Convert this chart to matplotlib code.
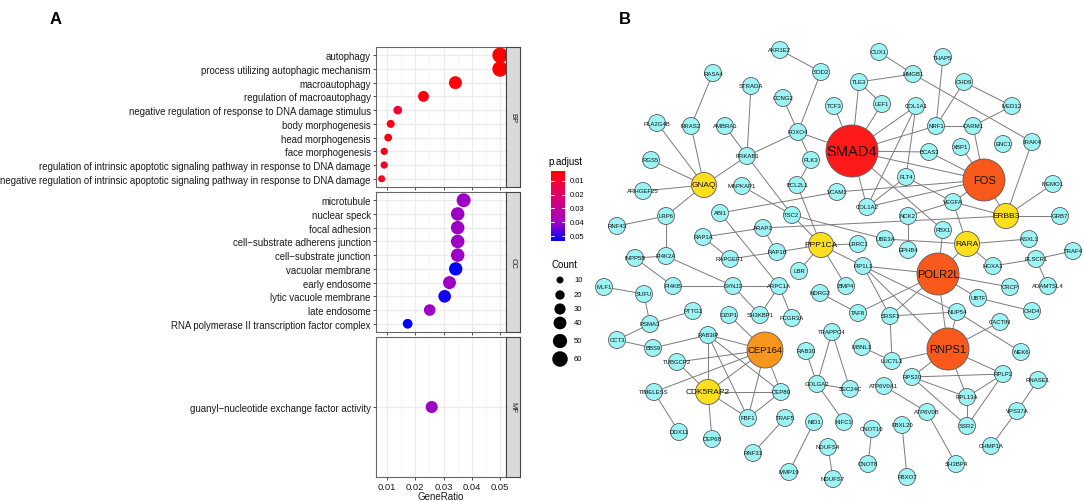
import numpy as np
import matplotlib
matplotlib.use("Agg")
import matplotlib.pyplot as plt
from matplotlib.colors import LinearSegmentedColormap, Normalize
from matplotlib.patches import Circle

plt.rcParams['font.family'] = ['Liberation Sans', 'DejaVu Sans']

# ---------------- Panel A data ----------------
bp_terms = ["autophagy", "process utilizing autophagic mechanism", "macroautophagy",
            "regulation of macroautophagy",
            "negative regulation of response to DNA damage stimulus",
            "body morphogenesis", "head morphogenesis", "face morphogenesis",
            "regulation of intrinsic apoptotic signaling pathway in response to DNA damage",
            "negative regulation of intrinsic apoptotic signaling pathway in response to DNA damage"]
bp_ratio = [0.0500, 0.0500, 0.0342, 0.0229, 0.0138, 0.0113, 0.0104, 0.0090, 0.0090, 0.0081]
bp_count = [60, 60, 41, 28, 17, 14, 13, 11, 11, 10]
bp_padj = [0.0028, 0.0028, 0.004, 0.005, 0.011, 0.005, 0.005, 0.007, 0.010, 0.007]

cc_terms = ["microtubule", "nuclear speck", "focal adhesion", "cell\u2212substrate adherens junction",
            "cell\u2212substrate junction", "vacuolar membrane", "early endosome",
            "lytic vacuole membrane", "late endosome",
            "RNA polymerase II transcription factor complex"]
cc_ratio = [0.0371, 0.0350, 0.0350, 0.0350, 0.0350, 0.0343, 0.0321, 0.0304, 0.0251, 0.0173]
cc_count = [48, 45, 45, 45, 45, 44, 41, 39, 32, 22]
cc_padj = [0.040, 0.040, 0.040, 0.040, 0.040, 0.0536, 0.040, 0.052, 0.040, 0.0536]

mf_terms = ["guanyl\u2212nucleotide exchange factor activity"]
mf_ratio = [0.0258]
mf_count = [35]
mf_padj = [0.040]

x_ticks = [0.01, 0.02, 0.03, 0.04, 0.05]
padj_ticks = [0.01, 0.02, 0.03, 0.04, 0.05]
count_ticks = [10, 20, 30, 40, 50, 60]

# ---------------- Panel B data ----------------
node_names = ["SMAD4", "FOS", "POLR2L", "RNPS1", "CEP164",
              "GNAQ", "PPP1CA", "RARA", "ERBB3", "CDK5RAP2",
              "AKR1E2", "SOD2", "RASA4", "STRADA", "CCNG2", "TCF3", "PLA2G4B", "RRAS2",
              "AMBRA1", "FOXO4", "PRKAB1", "RGS5", "PLK3", "CUX1", "THAP5", "HMGB1",
              "TLE3", "CHD9", "LEF1", "COL1A1", "MED12", "NRF1", "CARM1", "BCAS3",
              "XBP1", "ENC1", "IRAK4", "ARHGEF25", "MAPKAP1", "BCL2L1", "VCAM1", "LRP6",
              "ABI1", "TSC2", "RNF43", "ARAP1", "RAP1A", "PI4K2A", "INPP5B", "RAP1B",
              "RAPGEF1", "LBR", "MLF1", "SUFU", "PI4KB", "SYNJ2", "ARPC1A", "NDRG2",
              "PTTG1", "DZIP1", "SH3KBP1", "FCGR3A", "PSMA3", "FLT4", "MEMO1", "COL1A2",
              "VEGFA", "NCK2", "GRB7", "PBX1", "UBE3A", "LRRC1", "ASXL1", "TRAF4",
              "EPHB4", "PLSCR1", "FIP1L1", "HOXA1", "BMP4", "CRCP", "ADAMTSL4", "UBTF",
              "CHD4", "TAF8", "SRSF1", "NUP54", "CACTIN", "CCT3", "RAB3IP", "BBS9",
              "RAB30", "TRAPPC4", "TUBGCP2", "GOLGA2", "TIMELESS", "CEP89", "FBF1",
              "TRAF5", "NID1", "DDX11", "CEP68", "RNF31", "MMP19", "NDUFS4", "NDUFS7",
              "MBNL1", "LUC7L3", "SEC24C", "ATP6V0A1", "RPS20", "KIFC3", "CNOT10",
              "FBXL20", "CNOT8", "FBXO7", "NEK6", "RPLP2", "RNASE1", "RPL13A", "VPS37A",
              "ATP6V0B", "SSR2", "CHMP1A", "SH3BP4"]
node_x = [852, 984, 938, 948, 765,
          704, 821, 967, 1006, 708,
          780, 821, 713, 751, 783, 834, 657, 691,
          725, 798, 747, 651, 811, 879, 943, 913,
          859, 964, 882, 916, 1012, 936, 973, 929,
          961, 1003, 1032, 643, 742, 797, 837, 666,
          720, 792, 617, 763, 703, 666, 635, 777,
          730, 799, 604, 644, 673, 733, 779, 820,
          693, 729, 760, 792, 650, 906, 1053, 867,
          953, 908, 1060, 943, 885, 858, 1029, 1073,
          908, 1036, 863, 993, 846, 1010, 1048, 978,
          1032, 858, 890, 957, 1000, 617, 708, 653,
          806, 832, 677, 817, 654, 781, 748,
          785, 814, 679, 712, 753, 789, 828, 833,
          862, 892, 850, 884, 912, 844, 872,
          902, 868, 907, 1021, 1003, 1038, 967, 1017,
          927, 967, 991, 956]
node_y = [152, 181, 275, 350, 351,
          186, 246, 245, 217, 393,
          51, 73, 74, 87, 99, 107, 124, 127,
          127, 133, 157, 161, 161, 53, 58, 75,
          83, 83, 105, 107, 107, 127, 127, 153,
          148, 145, 143, 192, 187, 186, 193, 217,
          214, 216, 227, 229, 238, 257, 259, 253,
          260, 272, 288, 295, 287, 287, 287, 294,
          312, 316, 316, 319, 325, 178, 185, 208,
          203, 217, 217, 231, 240, 245, 240, 252,
          251, 260, 267, 267, 287, 288, 287, 299,
          312, 314, 317, 313, 323, 341, 336, 349,
          352, 333, 363, 385, 393, 393, 419,
          419, 423, 433, 440, 454, 473, 448, 480,
          348, 362, 390, 387, 378, 423, 430,
          426, 465, 478, 353, 375, 381, 398, 412,
          413, 427, 447, 465]
node_group = (["hub1", "hub2", "hub2", "hub2", "hub3"] + ["yellow"] * 5
              + ["cyan"] * (len(node_names) - 10))

edges = [("AKR1E2", "SOD2"), ("SOD2", "FOXO4"), ("RASA4", "RRAS2"), ("STRADA", "PRKAB1"),
         ("CCNG2", "FOXO4"), ("TCF3", "SMAD4"), ("PLA2G4B", "GNAQ"), ("RRAS2", "GNAQ"),
         ("AMBRA1", "PRKAB1"), ("FOXO4", "PRKAB1"), ("FOXO4", "SMAD4"), ("FOXO4", "PLK3"),
         ("PRKAB1", "GNAQ"), ("RGS5", "GNAQ"), ("PRKAB1", "TSC2"), ("CUX1", "HMGB1"),
         ("TLE3", "HMGB1"), ("HMGB1", "IRAK4"), ("TLE3", "LEF1"), ("TLE3", "SMAD4"),
         ("LEF1", "SMAD4"), ("COL1A1", "SMAD4"), ("COL1A1", "COL1A2"), ("COL1A1", "FLT4"),
         ("THAP5", "NRF1"), ("CHD9", "NRF1"), ("CHD9", "MED12"), ("MED12", "CARM1"),
         ("NRF1", "CARM1"), ("NRF1", "SMAD4"), ("SMAD4", "BCAS3"), ("BCAS3", "FOS"),
         ("XBP1", "FOS"), ("CARM1", "FOS"), ("IRAK4", "ERBB3"), ("SMAD4", "FOS"),
         ("FLT4", "VEGFA"), ("FLT4", "COL1A2"), ("VCAM1", "FOS"), ("COL1A2", "FOS"),
         ("COL1A2", "SMAD4"), ("VEGFA", "ERBB3"), ("VEGFA", "NCK2"), ("VEGFA", "RARA"),
         ("VEGFA", "FOS"), ("ARAP1", "ERBB3"), ("ABI1", "VCAM1"), ("TSC2", "UBE3A"),
         ("BCL2L1", "PPP1CA"), ("MAPKAP1", "TSC2"), ("PLK3", "BCL2L1"), ("PPP1CA", "LRRC1"),
         ("PPP1CA", "FIP1L1"), ("PPP1CA", "BMP4"), ("PPP1CA", "RAP1B"), ("PPP1CA", "LBR"),
         ("PPP1CA", "TSC2"), ("UBE3A", "RARA"), ("NCK2", "EPHB4"), ("PBX1", "POLR2L"),
         ("SMAD4", "PBX1"), ("RARA", "ASXL1"), ("RARA", "HOXA1"), ("RARA", "POLR2L"),
         ("ERBB3", "MEMO1"), ("ERBB3", "GRB7"), ("ERBB3", "FOS"), ("HOXA1", "PLSCR1"),
         ("PLSCR1", "TRAF4"), ("PLSCR1", "ADAMTSL4"), ("POLR2L", "FIP1L1"), ("POLR2L", "CRCP"),
         ("POLR2L", "UBTF"), ("POLR2L", "SRSF1"), ("POLR2L", "TAF8"), ("POLR2L", "RNPS1"),
         ("UBTF", "CHD4"), ("FIP1L1", "SRSF1"), ("FIP1L1", "NUP54"), ("FIP1L1", "RNPS1"),
         ("SRSF1", "NUP54"), ("NUP54", "RNPS1"), ("CACTIN", "RNPS1"), ("NUP54", "NEK6"),
         ("TAF8", "NDRG2"), ("SRSF1", "LUC7L3"), ("LUC7L3", "MBNL1"), ("LUC7L3", "RNPS1"),
         ("RNPS1", "RPS20"), ("RNPS1", "RPLP2"), ("RNPS1", "RPL13A"), ("RPS20", "RPLP2"),
         ("RPS20", "RPL13A"), ("RPS20", "SSR2"), ("RPL13A", "RPLP2"), ("RPL13A", "SSR2"),
         ("SSR2", "RPLP2"), ("ATP6V0A1", "ATP6V0B"), ("ATP6V0B", "SH3BP4"), ("RNASE1", "VPS37A"),
         ("VPS37A", "CHMP1A"), ("CNOT10", "CNOT8"), ("FBXL20", "FBXO7"), ("NDUFS4", "NDUFS7"),
         ("NID1", "MMP19"), ("TRAF5", "RNF31"), ("TRAPPC4", "GOLGA2"), ("TRAPPC4", "SEC24C"),
         ("GOLGA2", "SEC24C"), ("GOLGA2", "RAB30"), ("GOLGA2", "KIFC3"), ("CEP164", "RAB3IP"),
         ("CEP164", "TUBGCP2"), ("CEP164", "TIMELESS"), ("CEP164", "CDK5RAP2"), ("CEP164", "CEP89"),
         ("CEP164", "FBF1"), ("CEP164", "DZIP1"), ("RAB3IP", "CDK5RAP2"), ("RAB3IP", "FBF1"),
         ("RAB3IP", "CEP89"), ("RAB3IP", "BBS9"), ("CDK5RAP2", "FBF1"), ("CDK5RAP2", "CEP89"),
         ("CDK5RAP2", "CEP68"), ("CDK5RAP2", "TUBGCP2"), ("CEP89", "FBF1"), ("TIMELESS", "DDX11"),
         ("CCT3", "PSMA3"), ("CCT3", "BBS9"), ("PSMA3", "PTTG1"), ("PSMA3", "SUFU"),
         ("SUFU", "MLF1"), ("INPP5B", "PI4K2A"), ("INPP5B", "PI4KB"), ("PI4K2A", "SYNJ2"),
         ("PI4K2A", "LRP6"), ("LRP6", "RNF43"), ("LRP6", "GNAQ"), ("SYNJ2", "PI4KB"),
         ("SYNJ2", "ARPC1A"), ("SYNJ2", "SH3KBP1"), ("ARPC1A", "SH3KBP1"), ("ARPC1A", "FCGR3A"),
         ("ARPC1A", "ABI1"), ("RAP1A", "ARAP1"), ("ARAP1", "RAP1B"), ("RAP1A", "RAPGEF1"),
         ("RAPGEF1", "RAP1B"), ("GNAQ", "ARHGEF25")]

# ---------------- styles ----------------
W, H = 1084, 502
DPI = 100
cmap = LinearSegmentedColormap.from_list(
    "padj", ["#FF0000", "#EC0052", "#C8008E", "#9A00C8", "#0000FF"])
norm = Normalize(vmin=0.0028, vmax=0.0536)
GRID = "#EBEBEB"
BORDER = "#666666"

group_style = {
    "hub1": dict(r=26, fc="#FF1A1A", fs=10.5),
    "hub2": dict(r=21, fc="#F95A1C", fs=8.0),
    "hub3": dict(r=18, fc="#F7961D", fs=6.8),
    "yellow": dict(r=12.5, fc="#FEDF1E", fs=6.0),
    "cyan": dict(r=8.5, fc="#9DF4F4", fs=4.3),
}


def rect(left, top, right, bottom):
    return [left / W, 1 - bottom / H, (right - left) / W, (bottom - top) / H]


def dot_size(count):
    # area-linear size scale: diameter in pixels -> points^2
    d = np.sqrt(10.8 + 3.82 * np.asarray(count, dtype=float))
    return (d * 72 / DPI) ** 2


fig = plt.figure(figsize=(W / DPI, H / DPI), dpi=DPI)
fig.patch.set_facecolor("white")

# ---------------- Panel A ----------------
facets = [("BP", bp_terms, bp_ratio, bp_count, bp_padj, 48, 188),
          ("CC", cc_terms, cc_ratio, cc_count, cc_padj, 193, 333),
          ("MF", mf_terms, mf_ratio, mf_count, mf_padj, 338, 478)]

for i, (lab, terms, ratio, count, padj, top, bot) in enumerate(facets):
    ax = fig.add_axes(rect(376, top, 506, bot))
    n = len(terms)
    ypos = np.arange(n)
    ax.set_xlim(0.0061, 0.0521)
    ax.set_ylim(n - 0.4, -0.6)
    ax.set_xticks(x_ticks)
    ax.set_xticks([0.015, 0.025, 0.035, 0.045], minor=True)
    ax.set_yticks(ypos)
    ax.set_yticklabels(terms, fontsize=6.9, color="#1a1a1a")
    ax.grid(which="major", color=GRID, lw=0.9, zorder=0)
    ax.grid(which="minor", axis="x", color="#F4F4F4", lw=0.5, zorder=0)
    ax.set_axisbelow(True)
    ax.scatter(ratio, ypos, s=dot_size(count), c=padj, cmap=cmap, norm=norm,
               edgecolors="none", zorder=3)
    ax.tick_params(axis="both", which="major", length=2.2, width=0.6, color="#333333",
                   pad=1.5)
    ax.tick_params(axis="x", which="minor", length=0)
    for sp in ax.spines.values():
        sp.set_color(BORDER)
        sp.set_linewidth(0.8)
    if i < 2:
        ax.set_xticklabels([])
    else:
        ax.set_xticklabels(["0.01", "0.02", "0.03", "0.04", "0.05"], fontsize=6.8,
                           color="#1a1a1a")
        ax.set_xlabel("GeneRatio", fontsize=7, labelpad=0, color="#1a1a1a")

    st = fig.add_axes(rect(506, top, 520, bot))
    st.set_facecolor("#D9D9D9")
    st.set_xticks([])
    st.set_yticks([])
    for sp in st.spines.values():
        sp.set_color("#444444")
        sp.set_linewidth(0.8)
    st.text(0.5, 0.5, lab, rotation=-90, ha="center", va="center", fontsize=5.5,
            color="#1a1a1a", transform=st.transAxes)

fig.text(56 / W, 1 - 20 / H, "A", fontsize=12, fontweight="bold", ha="center", va="center")

# legend: p.adjust colorbar
fig.text(548 / W, 1 - 162 / H, "p.adjust", fontsize=7, ha="left", va="center")
cax = fig.add_axes(rect(551, 172, 565, 242))
grad = np.linspace(norm.vmin, norm.vmax, 200).reshape(-1, 1)
cax.imshow(grad, aspect="auto", cmap=cmap, norm=norm,
           extent=[0, 1, norm.vmax, norm.vmin])
cax.set_ylim(norm.vmax, norm.vmin)
cax.set_xlim(0, 1)
cax.axis("off")
for t in padj_ticks:
    cax.plot([0, 0.2], [t, t], color="white", lw=0.6)
    cax.plot([0.8, 1], [t, t], color="white", lw=0.6)
    cax.text(1.35, t, f"{t:.2f}", fontsize=5.5, va="center", ha="left",
             transform=cax.transData, clip_on=False)

# legend: Count
fig.text(551 / W, 1 - 265 / H, "Count", fontsize=7, ha="left", va="center")
count_y = [281, 296, 310, 324, 342, 360]
lax = fig.add_axes(rect(545, 270, 600, 370))
lax.set_xlim(545, 600)
lax.set_ylim(370, 270)
lax.axis("off")
lax.scatter([560] * len(count_ticks), count_y, s=dot_size(count_ticks), color="black",
            edgecolors="none")
for c, yy in zip(count_ticks, count_y):
    lax.text(574, yy, str(c), fontsize=5.5, va="center", ha="left")

# ---------------- Panel B ----------------
net = fig.add_axes(rect(590, 0, W, H))
net.set_xlim(590, W)
net.set_ylim(H, 0)
net.axis("off")

pos = {n: (x, y) for n, x, y in zip(node_names, node_x, node_y)}
for a, b in edges:
    (x1, y1), (x2, y2) = pos[a], pos[b]
    net.plot([x1, x2], [y1, y2], color="#7A7A7A", lw=0.7, zorder=1)

for name, x, y, g in zip(node_names, node_x, node_y, node_group):
    stl = group_style[g]
    net.add_patch(Circle((x, y), stl["r"], facecolor=stl["fc"], edgecolor="#5A5A5A",
                         lw=0.6, zorder=2))
    net.text(x, y, name, fontsize=stl["fs"], ha="center", va="center", zorder=3,
             color="#111111")

fig.text(625 / W, 1 - 20 / H, "B", fontsize=12, fontweight="bold", ha="center", va="center")

fig.savefig("out.png", dpi=DPI, facecolor="white")
